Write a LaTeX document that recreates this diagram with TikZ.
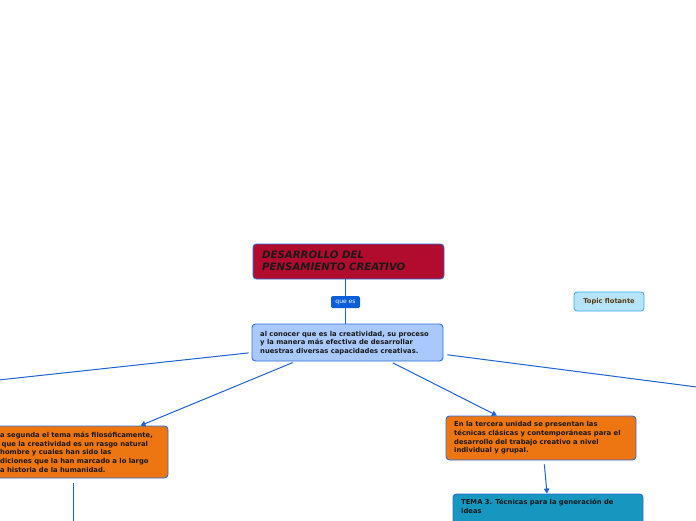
\documentclass[tikz,border=0pt]{standalone}
\usepackage{fontspec}
\setmainfont{DejaVu Sans}
\usetikzlibrary{arrows.meta,calc}
\definecolor{titlefill}{HTML}{B10C2E}
\definecolor{mainfill}{HTML}{A9C9FD}
\definecolor{orangefill}{HTML}{EE7612}
\definecolor{tealfill}{HTML}{1597BF}
\definecolor{labelfill}{HTML}{0B5ED7}
\definecolor{topicfill}{HTML}{B5E4F9}
\definecolor{topicborder}{HTML}{3AAAE8}
\definecolor{topictext}{HTML}{5B3A12}
\definecolor{edgeblue}{HTML}{2D6FD8}
\definecolor{linkblue}{HTML}{1C63D4}
\tikzset{
  x=1pt,y=1pt,
  box/.style={draw=edgeblue, line width=0.9pt, rounded corners=3.5pt, inner sep=0pt},
  txt/.style={font=\bfseries\fontsize{6.8}{8.6}\selectfont, align=left, anchor=north west, inner sep=0pt, text=black!90},
  link/.style={draw=linkblue, line width=1pt},
  arr/.style={link, -{Triangle[length=5pt,width=5.5pt]}},
}
\begin{document}
\begin{tikzpicture}
\clip (0,0) rectangle (696,-520);
\fill[white] (0,0) rectangle (696,-520);
% title
\node[box, fill=titlefill, minimum width=191, minimum height=35] (title) at (348.5,-261.5) {};
\node[txt, font=\bfseries\itshape\fontsize{10.2}{12}\selectfont] (titletxt) at (262,-250.5) {DESARROLLO DEL\\PENSAMIENTO CREATIVO};
% main
\node[box, fill=mainfill, minimum width=191, minimum height=37] (main) at (347.5,-342.5) {};
\node[txt] (maintxt) at (260,-331) {al conocer que es la creatividad, su proceso\\y la manera más efectiva de desarrollar\\nuestras diversas capacidades creativas.};
% label
\node[fill=labelfill, rounded corners=1.5pt, minimum width=29, minimum height=12, inner sep=0pt, text=white, font=\fontsize{6}{7}\selectfont] (quees) at (345.5,-302) {que es};
% left orange
\node[box, fill=orangefill, minimum width=186, minimum height=52] (lbox) at (75,-452) {};
\node[txt] (ltxt) at (0,-432) {a segunda el tema más filosóficamente,\\\hspace*{1.5pt}que la creatividad es un rasgo natural\\hombre y cuales han sido las\\diciones que la han marcado a lo largo\\a historia de la humanidad.};
% right orange
\node[box, fill=orangefill, minimum width=190, minimum height=44] (rbox) at (541,-438) {};
\node[txt] (rtxt) at (454,-421.5) {En la tercera unidad se presentan las\\técnicas clásicas y contemporáneas para el\\desarrollo del trabajo creativo a nivel\\individual y grupal.};
% teal
\node[box, fill=tealfill, minimum width=190, minimum height=40] (teal) at (548,-514) {};
\node[txt] (ttxt) at (461,-499) {TEMA 3. Técnicas para la generación de\\ideas};
% floating topic
\node[draw=topicborder, line width=0.8pt, fill=topicfill, rounded corners=3pt, minimum width=70, minimum height=19, inner sep=0pt, text=topictext, font=\bfseries\fontsize{6.7}{7}\selectfont] (topic) at (609,-301.5) {Topic flotante};
% off-canvas ends
\coordinate (offL) at (-20,-382);
\coordinate (offR) at (720,-390);
\coordinate (offB) at (73,-540);
% connectors
\draw[link] (title.south -| quees) -- (quees);
\draw[link] (quees) -- (quees |- main.north);
\draw[link, shorten <=3pt] (main.186) -- (offL);
\draw[link, shorten <=4pt] (main.-7) -- (offR);
\draw[arr, shorten <=3pt] (main.200) -- (lbox.22);
\draw[arr, shorten <=3pt] (main.-24) -- (rbox.153);
\draw[arr, shorten <=4pt] ($(rbox.south)+(3,0)$) -- ($(teal.north)+(-1,0)$);
\draw[link] ($(lbox.south)+(-2,-5)$) -- (offB);
\end{tikzpicture}
\end{document}
